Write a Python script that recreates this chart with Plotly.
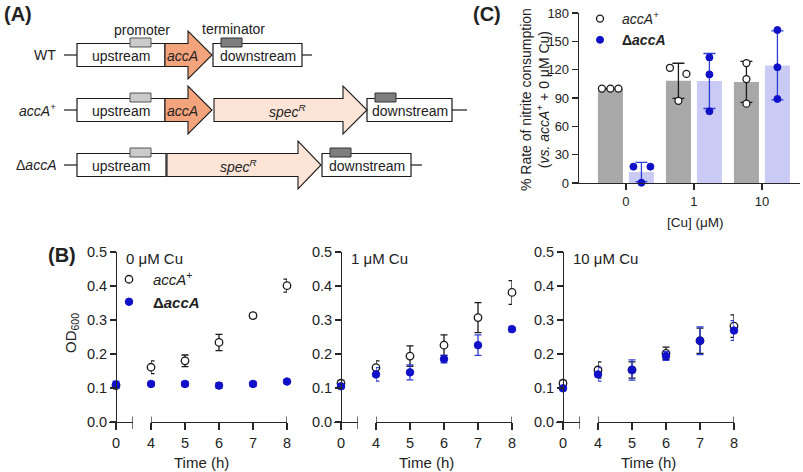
import plotly.graph_objects as go

W, H = 803, 472
FONT = "Liberation Sans, Arial, sans-serif"
AX = "#262626"
BLACK = "#1a1a1a"
BLUE = "#1010C8"
BLUE_ERR = "#2F3FD6"
GREY_BAR = "#A8A8A8"
BLUE_BAR = "#CACBF4"
ACCA_FILL = "#F4A47C"
SPEC_FILL = "#FCE4D7"
PROM_FILL = "#CACACA"
TERM_FILL = "#7E7E7E"

# ---------------- data ----------------
# Panel B: growth curves (OD600) at three copper levels
TIME = [0, 4, 5, 6, 7, 8]
CU_LEVELS = ["0 μM Cu", "1 μM Cu", "10 μM Cu"]
OD_ACCA_PLUS = [
    [0.107, 0.161, 0.180, 0.234, 0.313, 0.401],
    [0.114, 0.160, 0.194, 0.226, 0.307, 0.381],
    [0.114, 0.153, 0.153, 0.202, 0.239, 0.282],
]
OD_ACCA_PLUS_SD = [
    [0.006, 0.019, 0.017, 0.024, 0.007, 0.019],
    [0.008, 0.020, 0.030, 0.030, 0.044, 0.035],
    [0.008, 0.024, 0.024, 0.018, 0.037, 0.033],
]
OD_DACCA = [
    [0.110, 0.112, 0.112, 0.107, 0.112, 0.119],
    [0.105, 0.140, 0.146, 0.185, 0.226, 0.273],
    [0.099, 0.140, 0.153, 0.194, 0.239, 0.269],
]
OD_DACCA_SD = [
    [0.010, 0.007, 0.007, 0.008, 0.007, 0.004],
    [0.006, 0.020, 0.022, 0.011, 0.030, 0.008],
    [0.005, 0.020, 0.030, 0.013, 0.041, 0.029],
]

# Panel C: % rate of nitrite consumption
CU_CATS = ["0", "1", "10"]
RATE_PLUS_REPS = [[100, 100, 100], [122, 115.5, 87], [127, 110, 84]]
RATE_PLUS_MEAN = [100, 108.2, 107]
RATE_PLUS_SD = [0, 18.6, 21.7]
RATE_D_REPS = [[17.3, 0.3, 17.3], [133, 115, 76], [162, 122.6, 89]]
RATE_D_MEAN = [11.6, 108, 124.5]
RATE_D_SD = [10.2, 29.1, 36.5]

NAME_PLUS = "<i>accA</i><sup>+</sup>"
NAME_D = "<b>Δ<i>accA</i></b>"


def P(x):
    return x / W


def Q(y):
    return 1 - y / H


fig = go.Figure()
shapes = []
annotations = []

# ---------------- Panel C ----------------
PX_PER_CAT = 68.0
C_X = list(range(len(CU_CATS)))
OFF_GREY = -15.5 / PX_PER_CAT
OFF_BLUE = 15.5 / PX_PER_CAT
BAR_W = 25 / PX_PER_CAT
JIT_PLUS = [[-8.5, 0, 8], [-8.5, 8, 0], [0, 0, 0]]
JIT_D = [[-8, 0, 9], [0, 0, 0], [0, 0, 0]]

fig.add_trace(go.Bar(
    x=[i + OFF_GREY for i in C_X], y=RATE_PLUS_MEAN, width=BAR_W,
    marker=dict(color=GREY_BAR, line=dict(width=0)),
    error_y=dict(type="data", array=RATE_PLUS_SD, color=BLACK, thickness=1.3, width=6),
    showlegend=False, xaxis="x", yaxis="y", hoverinfo="skip"))
fig.add_trace(go.Bar(
    x=[i + OFF_BLUE for i in C_X], y=RATE_D_MEAN, width=BAR_W,
    marker=dict(color=BLUE_BAR, line=dict(width=0)),
    error_y=dict(type="data", array=RATE_D_SD, color=BLUE_ERR, thickness=1.3, width=6),
    showlegend=False, xaxis="x", yaxis="y", hoverinfo="skip"))

xs, ys = [], []
for i, reps in enumerate(RATE_PLUS_REPS):
    for j, v in enumerate(reps):
        xs.append(i + OFF_GREY + JIT_PLUS[i][j] / PX_PER_CAT)
        ys.append(v)
fig.add_trace(go.Scatter(
    x=xs, y=ys, mode="markers", name=NAME_PLUS, legend="legend",
    marker=dict(symbol="circle", size=7, color="white", line=dict(color=BLACK, width=1.3)),
    cliponaxis=False, xaxis="x", yaxis="y"))
xs, ys = [], []
for i, reps in enumerate(RATE_D_REPS):
    for j, v in enumerate(reps):
        xs.append(i + OFF_BLUE + JIT_D[i][j] / PX_PER_CAT)
        ys.append(v)
fig.add_trace(go.Scatter(
    x=xs, y=ys, mode="markers", name=NAME_D, legend="legend",
    marker=dict(symbol="circle", size=7, color=BLUE, line=dict(color=BLUE, width=1)),
    cliponaxis=False, xaxis="x", yaxis="y"))

# ---------------- Panel B ----------------
YAX_PX = [116, 341, 563]
HOUR_PX = 34.0
series = [
    (OD_ACCA_PLUS, OD_ACCA_PLUS_SD, NAME_PLUS,
     dict(symbol="circle", size=7.5, color="white", line=dict(color=BLACK, width=1.3)), BLACK),
    (OD_DACCA, OD_DACCA_SD, NAME_D,
     dict(symbol="circle", size=7.5, color=BLUE, line=dict(color=BLUE, width=1)), BLUE_ERR),
]
for k in range(3):
    xa, xb, ya = f"x{2 + 2 * k}", f"x{3 + 2 * k}", f"y{2 + k}"
    for vals, sds, name, mk, ecol in series:
        err = dict(type="data", color=ecol, thickness=1.3, width=3.5)
        fig.add_trace(go.Scatter(
            x=TIME[:1], y=vals[k][:1], mode="markers", marker=mk,
            error_y=dict(err, array=sds[k][:1]), showlegend=False,
            cliponaxis=False, xaxis=xa, yaxis=ya))
        fig.add_trace(go.Scatter(
            x=TIME[1:], y=vals[k][1:], mode="markers", marker=mk, name=name,
            error_y=dict(err, array=sds[k][1:]), showlegend=(k == 0),
            legend="legend2", cliponaxis=False, xaxis=xb, yaxis=ya))

axis_common = dict(showline=True, linecolor=AX, linewidth=1.3, ticks="outside",
                   tickcolor=AX, tickwidth=1.3, showgrid=False, zeroline=False,
                   fixedrange=True, automargin=False)

layout_axes = {}
layout_axes["xaxis"] = dict(axis_common, domain=[P(579), P(800)], range=[-0.69, 2.56],
                            anchor="y", tickvals=C_X, ticktext=CU_CATS, ticklen=6,
                            tickfont=dict(size=13, color="#222", family=FONT))
layout_axes["yaxis"] = dict(axis_common, domain=[Q(183), Q(13)], range=[0, 180], dtick=30,
                            anchor="x", ticklen=6,
                            tickfont=dict(size=13, color="#222", family=FONT))

for k in range(3):
    y0 = YAX_PX[k]
    layout_axes[f"yaxis{2 + k}"] = dict(
        axis_common, domain=[Q(422), Q(252)], range=[0, 0.5], dtick=0.1,
        tickformat=".1f", anchor="free", position=P(y0), ticklen=6,
        tickfont=dict(size=14.5, color="#222", family=FONT))
    layout_axes[f"xaxis{2 + 2 * k}"] = dict(
        axis_common, domain=[P(y0 - 0.2 * HOUR_PX), P(y0 + 0.5 * HOUR_PX)],
        range=[-0.2, 0.5], anchor=f"y{2 + k}", tickvals=[0], ticklen=7,
        tickfont=dict(size=14.5, color="#222", family=FONT))
    layout_axes[f"xaxis{3 + 2 * k}"] = dict(
        axis_common, domain=[P(y0 + 35), P(y0 + 35 + 4 * HOUR_PX)],
        range=[4, 8], dtick=1, anchor=f"y{2 + k}", ticklen=7,
        tickfont=dict(size=14.5, color="#222", family=FONT))
    # broken-axis end caps
    for xr, xv in ((f"x{2 + 2 * k}", 0.5), (f"x{3 + 2 * k}", 4), (f"x{3 + 2 * k}", 8)):
        shapes.append(dict(type="line", xref=xr, yref="paper", x0=xv, x1=xv,
                           y0=Q(416.5), y1=Q(429), line=dict(color=AX, width=1.3)))
    annotations.append(dict(text=CU_LEVELS[k], x=P(y0 + 8), y=Q(258), xanchor="left",
                            yanchor="middle", font=dict(size=15)))
    annotations.append(dict(text="Time (h)", x=P((y0 + y0 + 35 + 4 * HOUR_PX) / 2), y=Q(462),
                            xanchor="center", yanchor="middle", font=dict(size=15)))

annotations.append(dict(text="OD<sub>600</sub>", x=P(71), y=Q(333), textangle=-90,
                        xanchor="center", yanchor="middle", font=dict(size=15)))
annotations.append(dict(text="[Cu] (μM)", x=P(695), y=Q(222), xanchor="center",
                        yanchor="middle", font=dict(size=13.5)))
annotations.append(dict(
    text="% Rate of nitrite consumption<br>(<i>vs.</i> <i>accA</i><sup>+</sup> + 0 μM Cu)",
    x=P(535), y=Q(100), textangle=-90, xanchor="center", yanchor="middle",
    font=dict(size=14)))

for lab, (lx, ly) in (("(A)", (18, 14)), ("(B)", (62, 255)), ("(C)", (487, 14))):
    annotations.append(dict(text=f"<b>{lab}</b>", x=P(lx), y=Q(ly), xanchor="center",
                            yanchor="middle", font=dict(size=20)))

# ---------------- Panel A (schematic) ----------------
ROW_Y = [55, 110, 165]
BOX_HH = 11.5
HEAD_HH = 24
FONT_A = 14


def box(x0, x1, yc, fill="white", hh=BOX_HH, lc=BLACK, lw=1.2):
    shapes.append(dict(type="rect", xref="paper", yref="paper", x0=P(x0), x1=P(x1),
                       y0=Q(yc + hh), y1=Q(yc - hh), fillcolor=fill,
                       line=dict(color=lc, width=lw), layer="above"))


def small(x0, x1, ytop, ybot, fill, lc):
    shapes.append(dict(type="rect", xref="paper", yref="paper", x0=P(x0), x1=P(x1),
                       y0=Q(ybot), y1=Q(ytop), fillcolor=fill,
                       line=dict(color=lc, width=1), layer="above"))


def arrow(x0, xb, xt, yc, fill):
    pts = [(x0, yc - BOX_HH), (xb, yc - BOX_HH), (xb, yc - HEAD_HH), (xt, yc),
           (xb, yc + HEAD_HH), (xb, yc + BOX_HH), (x0, yc + BOX_HH)]
    path = "M " + " L ".join(f"{P(x):.5f},{Q(y):.5f}" for x, y in pts) + " Z"
    shapes.append(dict(type="path", xref="paper", yref="paper", path=path,
                       fillcolor=fill, line=dict(color=BLACK, width=1.1), layer="above"))


def hline(x0, x1, yc):
    shapes.append(dict(type="line", xref="paper", yref="paper", x0=P(x0), x1=P(x1),
                       y0=Q(yc), y1=Q(yc), line=dict(color=BLACK, width=1.2), layer="above"))


def text(t, x, yc, anchor="center", size=FONT_A):
    annotations.append(dict(text=t, x=P(x), y=Q(yc), xanchor=anchor, yanchor="middle",
                            font=dict(size=size, color="#222")))


SPEC_LAB = "<i>spec<sup>R</sup></i>"
rows = [
    ("WT", 165, [(165, 188, 212, ACCA_FILL, "<i>accA</i>", 182.5)], (213, 302, 312)),
    (NAME_PLUS, 165, [(165, 188, 212, ACCA_FILL, "<i>accA</i>", 182.5),
                      (214, 343, 367, SPEC_FILL, SPEC_LAB, 287)], (367, 452, 467)),
    ("Δ<i>accA</i>", 166, [(167, 298, 321, SPEC_FILL, SPEC_LAB, 238)], (322, 411, 422)),
]
for (lab, up_end, arrs, (d0, d1, lend)), yc in zip(rows, ROW_Y):
    hline(64, 77, yc)
    hline(d1, lend, yc)
    box(77, up_end, yc)
    box(d0, d1, yc)
    for (a0, ab, at, fill, alab, ax) in arrs:
        arrow(a0, ab, at, yc, fill)
    small(130, 151, yc - 17, yc - 8, PROM_FILL, "#555")
    small(d0 + 8, d0 + 29, yc - 17, yc - 8, TERM_FILL, "#333")
    text(lab, 58, yc, anchor="right")
    text("upstream", 121, yc + 1)
    text("downstream", (d0 + d1) / 2, yc + 1)
    for (a0, ab, at, fill, alab, ax) in arrs:
        text(alab, ax, yc + 1)

text("promoter", 142, 30)
text("terminator", 233, 29)

for a in annotations:
    a["showarrow"] = False
    a["xref"] = "paper"
    a["yref"] = "paper"
    a["font"] = dict(a.get("font", {}), family=FONT, color="#222")

fig.update_layout(
    template="none",
    width=W, height=H, margin=dict(l=0, r=0, t=0, b=0, pad=0, autoexpand=False),
    paper_bgcolor="white", plot_bgcolor="white",
    font=dict(family=FONT, color="#222", size=14),
    barmode="overlay", showlegend=True, hovermode=False,
    shapes=shapes, annotations=annotations,
    legend=dict(x=P(578), y=Q(3), xanchor="left", yanchor="top", bgcolor="rgba(0,0,0,0)",
                borderwidth=0, font=dict(size=14, family=FONT, color="#222"),
                tracegroupgap=0, itemclick=False, itemwidth=34),
    legend2=dict(x=P(105), y=Q(263), xanchor="left", yanchor="top", bgcolor="rgba(0,0,0,0)",
                 borderwidth=0, font=dict(size=15, family=FONT, color="#222"),
                 tracegroupgap=0, itemclick=False, itemwidth=38),
    **layout_axes,
)

fig.write_html(
    "out.html",
    config={"displayModeBar": False, "staticPlot": True},
    post_script="document.body.style.margin='0px';document.body.style.overflow='hidden';",
)
